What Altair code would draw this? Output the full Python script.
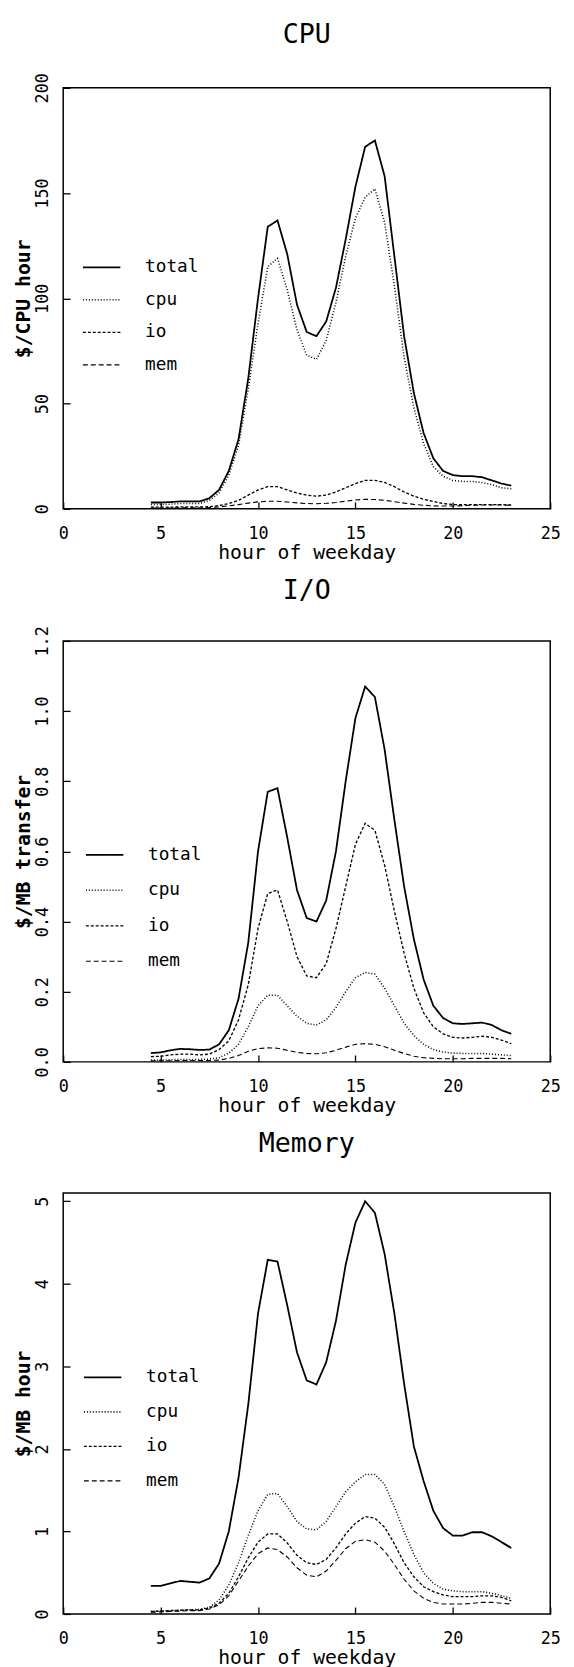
import altair as alt
import pandas as pd

hours = [4.5, 5, 5.5, 6, 6.5, 7, 7.5, 8, 8.5, 9, 9.5, 10, 10.5, 11, 11.5, 12, 12.5, 13,
         13.5, 14, 14.5, 15, 15.5, 16, 16.5, 17, 17.5, 18, 18.5, 19, 19.5, 20, 20.5, 21,
         21.5, 22, 22.5, 23]

series = ["total", "cpu", "io", "mem"]

# CPU panel ($/CPU hour)
cpu_total = [3, 3, 3.2, 3.5, 3.5, 3.5, 5, 9, 18, 33, 62, 100, 134, 137, 121, 97, 84, 82, 89, 105,
             128, 153, 172, 175, 158, 120, 82, 55, 36, 24, 18, 16, 15.5, 15.5, 15, 13.5, 12, 11]
cpu_cpu = [2, 2, 2.2, 2.5, 2.5, 2.5, 4, 7.5, 16, 30, 57, 88, 115, 119, 104, 85, 73, 71, 80, 98,
           120, 138, 148, 152, 136, 106, 72, 48, 31, 20, 15.5, 13.5, 13, 13, 12.5, 11.5, 10, 9.5]
cpu_io = [0.8, 0.8, 0.8, 0.9, 0.9, 0.9, 1, 1.5, 2.5, 4, 6.5, 9, 10.5, 10.5, 9, 7.5, 6.5, 6, 6.5, 8,
          10, 12, 13.5, 13.5, 12.5, 10.5, 8, 6, 4.5, 3.5, 2.5, 2, 2, 2, 2, 2, 2, 1.8]
cpu_mem = [0.4, 0.4, 0.4, 0.5, 0.5, 0.5, 0.6, 0.9, 1.4, 2, 2.7, 3.3, 3.6, 3.6, 3.2, 2.8, 2.5, 2.4, 2.6, 3,
           3.6, 4.2, 4.5, 4.4, 4, 3.4, 2.7, 2.1, 1.7, 1.4, 1.3, 1.3, 1.5, 1.7, 1.8, 1.8, 1.8, 1.7]

# I/O panel ($/MB transfer)
io_total = [0.025, 0.027, 0.033, 0.037, 0.036, 0.034, 0.035, 0.05, 0.09, 0.18, 0.34, 0.6, 0.77, 0.78,
            0.64, 0.49, 0.41, 0.40, 0.46, 0.60, 0.80, 0.98, 1.07, 1.04, 0.89, 0.69, 0.50, 0.35, 0.235,
            0.16, 0.125, 0.11, 0.108, 0.11, 0.112, 0.105, 0.09, 0.08]
io_cpu = [0.005, 0.005, 0.006, 0.007, 0.007, 0.007, 0.008, 0.012, 0.025, 0.05, 0.1, 0.16, 0.19, 0.19,
          0.16, 0.13, 0.11, 0.105, 0.12, 0.155, 0.2, 0.24, 0.255, 0.25, 0.21, 0.16, 0.11, 0.075, 0.05,
          0.035, 0.028, 0.025, 0.024, 0.024, 0.024, 0.022, 0.02, 0.018]
io_io = [0.015, 0.016, 0.02, 0.022, 0.022, 0.02, 0.022, 0.035, 0.06, 0.12, 0.22, 0.38, 0.48, 0.49,
         0.40, 0.30, 0.245, 0.24, 0.28, 0.38, 0.50, 0.62, 0.68, 0.66, 0.56, 0.43, 0.31, 0.21, 0.14,
         0.10, 0.08, 0.07, 0.068, 0.07, 0.073, 0.07, 0.062, 0.052]
io_mem = [0.003, 0.003, 0.003, 0.004, 0.004, 0.004, 0.004, 0.005, 0.01, 0.018, 0.03, 0.038, 0.04, 0.039,
          0.033, 0.027, 0.024, 0.023, 0.026, 0.033, 0.042, 0.05, 0.052, 0.05, 0.043, 0.033, 0.024,
          0.016, 0.012, 0.01, 0.009, 0.009, 0.009, 0.01, 0.01, 0.01, 0.01, 0.009]

# Memory panel ($/MB hour)
mem_total = [0.34, 0.34, 0.37, 0.40, 0.39, 0.38, 0.43, 0.61, 1.0, 1.65, 2.54, 3.64, 4.29, 4.27, 3.74,
             3.17, 2.83, 2.78, 3.05, 3.55, 4.23, 4.74, 5.0, 4.86, 4.36, 3.64, 2.79, 2.03, 1.61, 1.25,
             1.04, 0.95, 0.95, 0.99, 0.99, 0.94, 0.87, 0.80]
mem_cpu = [0.03, 0.035, 0.04, 0.045, 0.05, 0.055, 0.08, 0.17, 0.35, 0.62, 0.95, 1.25, 1.45, 1.46, 1.3,
           1.12, 1.03, 1.02, 1.12, 1.3, 1.48, 1.6, 1.69, 1.69, 1.57, 1.3, 1.0, 0.72, 0.5, 0.37, 0.3,
           0.28, 0.27, 0.27, 0.27, 0.25, 0.22, 0.19]
mem_io = [0.03, 0.035, 0.04, 0.045, 0.05, 0.05, 0.07, 0.13, 0.25, 0.45, 0.68, 0.87, 0.97, 0.97, 0.86,
          0.71, 0.62, 0.6, 0.66, 0.8, 0.97, 1.1, 1.18, 1.16, 1.05, 0.85, 0.62, 0.45, 0.33, 0.27, 0.23,
          0.21, 0.21, 0.21, 0.22, 0.22, 0.2, 0.16]
mem_mem = [0.02, 0.025, 0.03, 0.035, 0.04, 0.04, 0.06, 0.11, 0.22, 0.4, 0.58, 0.73, 0.8, 0.78, 0.69,
           0.56, 0.47, 0.45, 0.52, 0.65, 0.79, 0.88, 0.9, 0.87, 0.76, 0.6, 0.42, 0.28, 0.19, 0.14, 0.12,
           0.12, 0.12, 0.13, 0.14, 0.14, 0.13, 0.12]

x_ticks = [0, 5, 10, 15, 20, 25]

FONT = "DejaVu Sans Mono"
DASHES = [[1, 0], [1, 2], [3, 2], [5, 3]]
WIDTHS = [1.8, 1.1, 1.3, 1.3]


def make_df(arrays):
    rows = []
    for s, arr in zip(series, arrays):
        for h, v in zip(hours, arr):
            rows.append({"hour": h, "value": v, "series": s})
    return pd.DataFrame(rows)


def panel(title, title_offset, ytitle, ymax, yticks, fmt, arrays, lx, ly, rowpad):
    df = make_df(arrays)
    return alt.Chart(df).mark_line(color="black", strokeCap="butt").encode(
        x=alt.X("hour:Q",
                scale=alt.Scale(domain=[0, 25], nice=False, zero=False),
                axis=alt.Axis(values=x_ticks, title="hour of weekday", format="d",
                              offset=-7, tickSize=7, domain=False, grid=False,
                              labelPadding=17, titlePadding=17, titleBaseline="alphabetic",
                              titleFontSize=20, labelFlush=False)),
        y=alt.Y("value:Q",
                scale=alt.Scale(domain=[0, ymax], nice=False, zero=True),
                axis=alt.Axis(values=yticks, title=ytitle, format=fmt,
                              offset=-7, tickSize=7, domain=False, grid=False,
                              labelAngle=-90, labelPadding=12, titlePadding=0,
                              titleFontWeight="bold", titleFontSize=20,
                              labelFlush=False)),
        strokeDash=alt.StrokeDash("series:N",
                                  scale=alt.Scale(domain=series, range=DASHES),
                                  legend=alt.Legend(title=None, orient="none",
                                                    legendX=lx, legendY=ly,
                                                    symbolType="stroke", symbolSize=1444,
                                                    symbolStrokeWidth=1.3,
                                                    symbolStrokeColor="black",
                                                    labelFont=FONT, labelFontSize=18,
                                                    labelColor="black", labelOffset=24,
                                                    rowPadding=rowpad)),
        strokeWidth=alt.StrokeWidth("series:N",
                                    scale=alt.Scale(domain=series, range=WIDTHS),
                                    legend=None),
        order=alt.Order("hour:Q"),
    ).properties(
        width=494, height=427,
        title=alt.TitleParams(title, font=FONT, fontSize=27, fontWeight="normal",
                              color="black", offset=title_offset, anchor="middle",
                              frame="group", baseline="alphabetic"),
    )


p1 = panel("CPU", 3, "$/CPU hour", 200, [0, 50, 100, 150, 200], "d",
           [cpu_total, cpu_cpu, cpu_io, cpu_mem], 19, 162, 4)
p2 = panel("I/O", 0, "$/MB transfer", 1.2, [0.0, 0.2, 0.4, 0.6, 0.8, 1.0, 1.2], ".1f",
           [io_total, io_cpu, io_io, io_mem], 22, 197, 7)
p3 = panel("Memory", 15, "$/MB hour", 5.1, [0, 1, 2, 3, 4, 5], "d",
           [mem_total, mem_cpu, mem_io, mem_mem], 20, 167, 6)

chart = alt.vconcat(p1, p2, p3, spacing=13).resolve_legend(
    strokeDash="independent"
).resolve_scale(
    strokeDash="independent", strokeWidth="independent"
).properties(
    padding={"left": 5, "right": 5, "top": 0, "bottom": 0}
).configure(
    font=FONT, background="white"
).configure_view(
    stroke="black", strokeWidth=1.5
).configure_axis(
    labelFont=FONT, labelFontSize=17, labelColor="black",
    titleFont=FONT, titleFontWeight="normal", titleColor="black",
    tickColor="black", tickWidth=1.3,
)

chart.save("out.html", embed_options={"renderer": "svg", "actions": False})
